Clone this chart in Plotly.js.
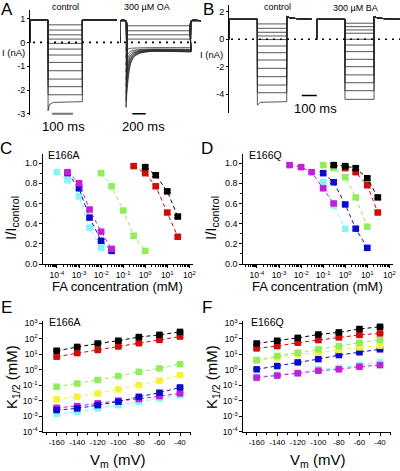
<!DOCTYPE html>
<html><head><meta charset="utf-8">
<script src="https://cdn.plot.ly/plotly-3.0.1.min.js"></script>
<style>html,body{margin:0;padding:0;background:#fff}#chart{width:400px;height:471px}</style>
</head><body><div id="chart"></div>
<script>
// ---------- Panel A: current traces (nA) ----------
const ctrlA_t = [0, 86, 249, 414];          // start, step on, step off, end (ms)
const ctrlA_hold = 0.94;
const ctrlA_levels = [0.74, 0.52, 0.32, 0.14, -0.04, -0.28, -0.53, -0.84, -1.19, -1.54, -1.86, -2.2, -2.49];
const ctrlA_onsetT = [0, 6, 25];
const ctrlA_onsetBottom = [-2.87, -2.62, -2.52];

const oaA_t = [0, 86, 1016, 1157];
const oaA_hold = 0.91;
const oaA_posLevels = [0.70, 0.49, 0.32, 0.14];
const oaA_sampleT = [0, 10, 33, 60, 105, 200, 350, 930];
const oaA_neg1 = [-2.73, -2.2, -1.47, -0.95, -0.63, -0.45, -0.38, -0.40];
const oaA_neg2 = [-2.45, -1.95, -1.3, -0.88, -0.6, -0.44, -0.37, -0.39];
const oaA_neg3 = [-2.15, -1.7, -1.15, -0.8, -0.56, -0.42, -0.36, -0.38];
const oaA_neg4 = [-1.85, -1.45, -1.0, -0.72, -0.52, -0.4, -0.35, -0.36];
const oaA_neg5 = [-1.55, -1.22, -0.88, -0.64, -0.48, -0.38, -0.33, -0.35];
const oaA_neg6 = [-1.25, -1.0, -0.75, -0.56, -0.44, -0.36, -0.32, -0.33];
const oaA_neg7 = [-0.95, -0.78, -0.6, -0.47, -0.39, -0.33, -0.3, -0.31];
const oaA_neg8 = [-0.65, -0.55, -0.45, -0.38, -0.33, -0.3, -0.28, -0.29];
const oaA_neg9 = [-0.35, -0.3, -0.27, -0.25, -0.24, -0.23, -0.22, -0.22];

// ---------- Panel B ----------
const ctrlB_t = [0, 189, 385, 551];
const baB_t = [585, 773, 967, 1140];
const holdB = 1.46;
const ctrlB_levels = [1.12, 0.8, 0.51, 0.24, -0.02, -0.49, -0.98, -1.51, -2.12, -2.73, -3.34, -3.9, -4.55];
const baB_levels = [1.17, 0.92, 0.68, 0.44, 0.0, -0.42, -0.9, -1.46, -2.0, -2.6, -3.17, -3.75, -4.38];
const tailB_t = [0, 20, 70, 166];
const tailB_v = [1.66, 1.57, 1.5, 1.46];
const ctrlB_onsetT = [0, 20];
const ctrlB_onsetBottom = [-4.8, -4.6];

// ---------- Panel C: E166A, I/Icontrol vs FA (mM) ----------
const cCyanX = [1e-4, 3e-4, 1e-3, 3e-3, 1e-2];   const cCyanY = [0.91, 0.83, 0.67, 0.36, 0.16];
const cMagX  = [3e-4, 1e-3, 3e-3, 1e-2, 3e-2];   const cMagY  = [0.91, 0.80, 0.54, 0.32, 0.15];
const cBlueX = [3e-4, 1e-3, 3e-3, 1e-2, 3e-2];   const cBlueY = [0.90, 0.75, 0.46, 0.23, 0.13];
const cGreenX = [0.01, 0.03, 0.1, 0.3, 1];       const cGreenY = [0.90, 0.77, 0.53, 0.28, 0.13];
const cRedX = [0.3, 1, 3, 10, 30];               const cRedY = [0.97, 0.90, 0.77, 0.51, 0.27];
const cBlackX = [1, 3, 10, 30];                  const cBlackY = [0.96, 0.88, 0.72, 0.47];

// ---------- Panel D: E166Q ----------
const dMagX = [0.003, 0.01, 0.03, 0.1, 0.3];     const dMagY = [0.98, 0.96, 0.91, 0.75, 0.60];
const dCyanX = [0.1, 0.3, 1];                    const dCyanY = [0.81, 0.58, 0.35];
const dBlueX = [0.1, 0.3, 1, 3, 10];             const dBlueY = [0.90, 0.81, 0.59, 0.35, 0.16];
const dGreenX = [0.1, 0.3, 1, 3, 10];            const dGreenY = [0.98, 0.95, 0.86, 0.66, 0.37];
const dRedX = [1, 3, 10, 30];                    const dRedY = [0.95, 0.91, 0.78, 0.51];
const dBlackX = [0.3, 1, 3, 10, 30];             const dBlackY = [0.98, 0.97, 0.95, 0.85, 0.66];

// ---------- Panels E/F: K1/2 (mM) vs Vm (mV) ----------
const vm = [-160, -140, -120, -100, -80, -60, -40];
const eBlack  = [17, 30, 50, 75, 130, 180, 280];
const eRed    = [7, 12, 19, 32, 52, 85, 140];
const eGreen  = [0.081, 0.13, 0.22, 0.39, 0.74, 1.23, 2.3];
const eYellow = [0.0123, 0.018, 0.0295, 0.054, 0.102, 0.195, 0.46];
const eBlue   = [0.0025, 0.0032, 0.0052, 0.0087, 0.018, 0.033, 0.072];
const eMag    = [0.0035, 0.0045, 0.0068, 0.01, 0.013, 0.02, 0.03];
const eCyan   = [0.0014, 0.0019, 0.0032, 0.0052, 0.0087, 0.014, 0.023];

const fBlack  = [50, 75, 115, 190, 260, 430, 600];
const fRed    = [24, 34, 56, 83, 123, 178, 224];
const fGreen  = [4.3, 7.8, 12.6, 21, 34, 56, 83];
const fYellow = [3.9, 6.3, 10, 12.6, 19, 28, 36];
const fBlue   = [1.07, 1.74, 3.0, 4.9, 8.9, 13.5, 21];
const fCyan   = [0.35, 0.46, 0.65, 1.07, 1.35, 2.0, 3.0];
const fMag    = [0.31, 0.42, 0.59, 0.87, 1.07, 1.58, 2.0];

const logTicksC = [1e-4, 1e-3, 1e-2, 1e-1, 1, 10, 100];
const logTextC = ['10<sup>-4</sup>','10<sup>-3</sup>','10<sup>-2</sup>','10<sup>-1</sup>','10<sup>0</sup>','10<sup>1</sup>','10<sup>2</sup>'];
const logTicksE = [1e-4, 1e-3, 1e-2, 1e-1, 1, 10, 100, 1000];
const logTextE = ['10<sup>-4</sup>','10<sup>-3</sup>','10<sup>-2</sup>','10<sup>-1</sup>','10<sup>0</sup>','10<sup>1</sup>','10<sup>2</sup>','10<sup>3</sup>'];
const relTicks = [0, 0.2, 0.4, 0.6, 0.8, 1.0];
const relText = ['0.0','0.2','0.4','0.6','0.8','1.0'];
const vmTicks = [-160, -140, -120, -100, -80, -60, -40];
const vmText = ['-160','-140','-120','-100','-80','-60','-40'];
const iTicksA = [-3, -2, -1, 0, 1];
const iTextA = ['-3','-2','-1','0','1'];
const iTicksB = [-4, -2, 0, 2];
const iTextB = ['-4','-2','0','2'];

// ---------- styling ----------
const FONT = 'Arial, "Liberation Sans", sans-serif';
const COL = {black:'#000000', red:'#d30b0b', green:'#90ee5c', yellow:'#f4f23a',
             blue:'#0b0bd0', magenta:'#c41fd8', cyan:'#84f6f6'};
const TRACE = '#2a2a2a';
const traces = [];

function stepSweep(t, hold, level, xa, ya, onsetT, onsetV, tailT, tailV) {
  const x = [t[0], t[0], t[1]], y = [0, hold, hold];
  if (onsetT) { onsetT.forEach((d, i) => { x.push(t[1] + d); y.push(onsetV[i]); }); }
  else { x.push(t[1]); y.push(level); }
  x.push(t[2], t[2]); y.push(level, tailV ? tailV[0] : hold);
  if (tailT) { tailT.slice(1).forEach((d, i) => { x.push(t[2] + d); y.push(tailV[i + 1]); }); }
  x.push(t[3]); y.push(hold);
  traces.push({type:'scatter', mode:'lines', x, y, xaxis:xa, yaxis:ya,
    line:{color:TRACE, width:0.8}, hoverinfo:'skip', showlegend:false});
}
function decaySweep(t, hold, sampleT, vals, xa, ya) {
  const x = [t[0], t[0], t[1]], y = [0, hold, hold];
  sampleT.forEach((d, i) => { x.push(t[1] + d); y.push(vals[i]); });
  x.push(t[2], t[2], t[3]); y.push(vals[vals.length - 1], hold, hold);
  traces.push({type:'scatter', mode:'lines', x, y, xaxis:xa, yaxis:ya,
    line:{color:TRACE, width:0.8, shape:'spline', smoothing:0.6}, hoverinfo:'skip', showlegend:false});
}

// Panel A
ctrlA_levels.forEach((lv, i) => {
  const last = i === ctrlA_levels.length - 1;
  stepSweep(ctrlA_t, ctrlA_hold, lv, 'x', 'y', last ? ctrlA_onsetT : null, last ? ctrlA_onsetBottom : null);
});
oaA_posLevels.forEach(lv => stepSweep(oaA_t, oaA_hold, lv, 'x2', 'y'));
[oaA_neg9, oaA_neg8, oaA_neg7, oaA_neg6, oaA_neg5, oaA_neg4, oaA_neg3, oaA_neg2, oaA_neg1]
  .forEach(v => decaySweep(oaA_t, oaA_hold, oaA_sampleT, v, 'x2', 'y'));

// Panel B
ctrlB_levels.forEach((lv, i) => {
  const last = i === ctrlB_levels.length - 1;
  stepSweep(ctrlB_t, holdB, lv, 'x3', 'y2', last ? ctrlB_onsetT : null, last ? ctrlB_onsetBottom : null, tailB_t, tailB_v);
});
baB_levels.forEach(lv => stepSweep(baB_t, holdB, lv, 'x3', 'y2', null, null, tailB_t, tailB_v));

// series helper
function series(x, y, color, xa, ya, errSpec) {
  traces.push({type:'scatter', mode:'lines+markers', x, y, xaxis:xa, yaxis:ya,
    line:{color, width:1, dash:'4px,3px'},
    marker:{symbol:'square', size:6.5, color, line:{width:0}},
    error_y: Object.assign({visible:true, color, thickness:1, width:3.5}, errSpec),
    hoverinfo:'skip', showlegend:false, cliponaxis:false});
}
const errRel = {type:'constant', value:0.014};
const errK = {type:'percent', value:14};

// C
series(cCyanX, cCyanY, COL.cyan, 'x4', 'y3', errRel);
series(cBlueX, cBlueY, COL.blue, 'x4', 'y3', errRel);
series(cMagX, cMagY, COL.magenta, 'x4', 'y3', errRel);
series(cGreenX, cGreenY, COL.green, 'x4', 'y3', errRel);
series(cRedX, cRedY, COL.red, 'x4', 'y3', errRel);
series(cBlackX, cBlackY, COL.black, 'x4', 'y3', errRel);
// D
series(dCyanX, dCyanY, COL.cyan, 'x5', 'y4', errRel);
series(dMagX, dMagY, COL.magenta, 'x5', 'y4', errRel);
series(dBlueX, dBlueY, COL.blue, 'x5', 'y4', errRel);
series(dGreenX, dGreenY, COL.green, 'x5', 'y4', errRel);
series(dRedX, dRedY, COL.red, 'x5', 'y4', errRel);
series(dBlackX, dBlackY, COL.black, 'x5', 'y4', errRel);
// E
[[eCyan, COL.cyan], [eMag, COL.magenta], [eBlue, COL.blue], [eYellow, COL.yellow],
 [eGreen, COL.green], [eRed, COL.red], [eBlack, COL.black]]
  .forEach(([v, c]) => series(vm, v, c, 'x6', 'y5', errK));
// F
[[fCyan, COL.cyan], [fMag, COL.magenta], [fBlue, COL.blue], [fYellow, COL.yellow],
 [fGreen, COL.green], [fRed, COL.red], [fBlack, COL.black]]
  .forEach(([v, c]) => series(vm, v, c, 'x7', 'y6', errK));

// ---------- layout ----------
const W = 400, H = 471;
const px = v => v / W, py = v => 1 - v / H;
const axBase = {showline:true, linecolor:'#000', linewidth:1, ticks:'outside', ticklen:3,
  tickwidth:1, tickcolor:'#000', showgrid:false, zeroline:false, tickangle:0,
  tickfont:{family:FONT, size:9, color:'#000'}, fixedrange:true};
const hidden = {visible:false, showgrid:false, zeroline:false, fixedrange:true};
const minorLog = {ticks:'outside', ticklen:2, tickcolor:'#000', dtick:'D1', showgrid:false};

const layout = {
  width:W, height:H, margin:{l:0, r:0, t:0, b:0},
  paper_bgcolor:'#fff', plot_bgcolor:'rgba(0,0,0,0)', showlegend:false,
  font:{family:FONT, color:'#000'},
  xaxis:  Object.assign({}, hidden, {domain:[px(30), px(117)], range:[0, 414], anchor:'y'}),
  xaxis2: Object.assign({}, hidden, {domain:[px(120), px(201)], range:[0, 1157], anchor:'y'}),
  yaxis:  Object.assign({}, axBase, {domain:[py(115), py(10.3)], range:[-3.05, 1.35], anchor:'x',
           tickmode:'array', tickvals:iTicksA, ticktext:iTextA, ticklen:2}),
  xaxis3: Object.assign({}, hidden, {domain:[px(229), 1], range:[0, 1140], anchor:'y2'}),
  yaxis2: Object.assign({}, axBase, {domain:[py(113.3), py(5)], range:[-5.4, 2.5], anchor:'x3',
           tickmode:'array', tickvals:iTicksB, ticktext:iTextB, ticklen:2}),
  xaxis4: Object.assign({}, axBase, {type:'log', domain:[px(43.3), px(193.3)], range:[-4.62, 2.18], anchor:'y3',
           tickmode:'array', tickvals:logTicksC, ticktext:logTextC, tickfont:{family:FONT, size:8.5, color:'#000'},
           minor:minorLog}),
  yaxis3: Object.assign({}, axBase, {domain:[py(264), py(154)], range:[0, 1.09], anchor:'x4',
           tickmode:'array', tickvals:relTicks, ticktext:relText,
           minor:{ticks:'outside', ticklen:2, tickcolor:'#000', dtick:0.1, showgrid:false}}),
  xaxis5: Object.assign({}, axBase, {type:'log', domain:[px(243.3), px(393.3)], range:[-4.62, 2.18], anchor:'y4',
           tickmode:'array', tickvals:logTicksC, ticktext:logTextC, tickfont:{family:FONT, size:8.5, color:'#000'},
           minor:minorLog}),
  yaxis4: Object.assign({}, axBase, {domain:[py(264), py(154)], range:[0, 1.09], anchor:'x5',
           tickmode:'array', tickvals:relTicks, ticktext:relText,
           minor:{ticks:'outside', ticklen:2, tickcolor:'#000', dtick:0.1, showgrid:false}}),
  xaxis6: Object.assign({}, axBase, {domain:[px(43.3), px(190.7)], range:[-173, -29.6], anchor:'y5',
           tickmode:'array', tickvals:vmTicks, ticktext:vmText, tickfont:{family:FONT, size:8, color:'#000'},
           minor:{ticks:'outside', ticklen:2, tickcolor:'#000', dtick:10, showgrid:false}}),
  yaxis5: Object.assign({}, axBase, {type:'log', domain:[py(431.7), py(320.7)], range:[-4, 3.17], anchor:'x6',
           tickmode:'array', tickvals:logTicksE, ticktext:logTextE, tickfont:{family:FONT, size:8.5, color:'#000'}}),
  xaxis7: Object.assign({}, axBase, {domain:[px(243.3), px(390.7)], range:[-173, -29.6], anchor:'y6',
           tickmode:'array', tickvals:vmTicks, ticktext:vmText, tickfont:{family:FONT, size:8, color:'#000'},
           minor:{ticks:'outside', ticklen:2, tickcolor:'#000', dtick:10, showgrid:false}}),
  yaxis6: Object.assign({}, axBase, {type:'log', domain:[py(431.7), py(320.7)], range:[-4, 3.17], anchor:'x7',
           tickmode:'array', tickvals:logTicksE, ticktext:logTextE, tickfont:{family:FONT, size:8.5, color:'#000'}}),
  shapes: [
    {type:'line', xref:'paper', yref:'y', x0:px(33), x1:px(201), y0:0, y1:0,
     line:{color:'#000', width:1.6, dash:'2px,5px'}},
    {type:'line', xref:'paper', yref:'y2', x0:px(231), x1:1, y0:0, y1:0,
     line:{color:'#000', width:1.6, dash:'2px,5px'}},
    {type:'line', xref:'x', yref:'y', x0:105, x1:205, y0:-3, y1:-3, line:{color:'#777', width:2}},
    {type:'line', xref:'x2', yref:'y', x0:176, x1:367, y0:-3, y1:-3, line:{color:'#000', width:1.5}},
    {type:'line', xref:'x3', yref:'y2', x0:485, x1:585, y0:-4.1, y1:-4.1, line:{color:'#000', width:1.5}}
  ],
  annotations: []
};

function ann(text, x, y, size, extra) {
  layout.annotations.push(Object.assign({text, xref:'paper', yref:'paper', x:px(x), y:py(y),
    xanchor:'center', yanchor:'middle', showarrow:false,
    font:{family:FONT, size, color:'#000'}}, extra || {}));
}
ann('A', 7, 10, 17); ann('B', 208.5, 10, 17);
ann('C', 6, 149, 17); ann('D', 207, 149, 17);
ann('E', 6, 307, 17); ann('F', 207, 307, 17);
ann('control', 65, 7, 9); ann('300 µM OA', 147, 7, 9);
ann('control', 277, 7, 9); ann('300 µM BA', 355, 8, 9);
ann('I (nA)', 13, 53, 9.5); ann('I (nA)', 211, 55, 9.5);
ann('100 ms', 63, 127, 13); ann('200 ms', 143.5, 127, 13); ann('100 ms', 315, 109, 13);
ann('E166A', 64, 155, 10.5); ann('E166Q', 265, 155, 10.5);
ann('E166A', 64.5, 322, 10.5); ann('E166Q', 267.5, 322, 10.5);
ann('FA concentration (mM)', 117, 286, 13);
ann('FA concentration (mM)', 317, 286, 13);
ann('I/I<sub>control</sub>', 11, 218, 15, {textangle:-90});
ann('I/I<sub>control</sub>', 211, 218, 15, {textangle:-90});
ann('V<sub>m</sub> (mV)', 117, 460, 15);
ann('V<sub>m</sub> (mV)', 317, 460, 15);
ann('K<sub>1/2</sub> (mM)', 12, 377, 15, {textangle:-90});
ann('K<sub>1/2</sub> (mM)', 212, 377, 15, {textangle:-90});

Plotly.newPlot('chart', traces, layout, {staticPlot:true, displayModeBar:false});
</script></body></html>
